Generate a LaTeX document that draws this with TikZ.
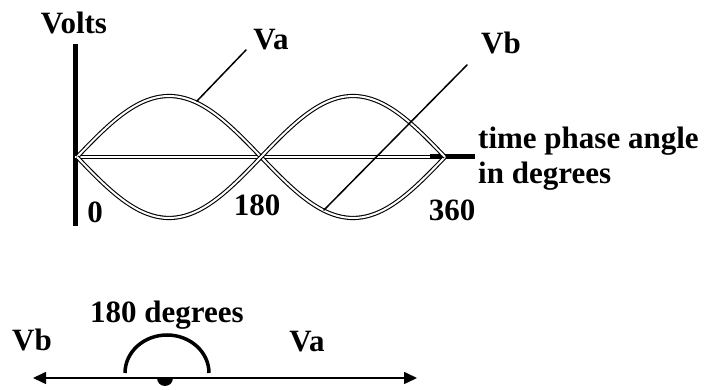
\documentclass[tikz,border=0pt]{standalone}
\usepackage{fontspec}
\setmainfont{Liberation Serif}
\usetikzlibrary{arrows.meta,positioning}
\tikzset{
  lbl/.style={font=\fontsize{31}{35}\selectfont\bfseries, inner sep=0pt},
  wave/.style={draw=black, line width=1.1pt, double=white, double distance=2pt},
  leader/.style={draw=black, line width=1.5pt, line cap=round}
}

\begin{document}
\begin{tikzpicture}[x=1pt, y=1pt]
    \useasboundingbox (0,0) rectangle (704,390);
    % axes
    \draw[line width=5pt] (75,346) -- (75,164);
    \draw[wave] (75,233) -- (432,233);
    \draw[line width=5pt] (430,233) -- (475,233);
    \node[lbl] (volts) at (74,367) {Volts};
    \node[lbl, anchor=west, align=left] (time) at (478,231)
      {time phase angle\\in degrees};
    % tick labels
    \node[lbl] (zero) at (95,178) {0};
    \node[lbl] (half) at (257,185) {180};
    \node[lbl] (full) at (452,180) {360};
    % the two waves
    \foreach \s in {1,-1}{
      \draw[wave, smooth, samples=90, domain=0:360]
        plot ({77+\x/360*368}, {233+\s*61*sin(\x)});
    }
    % wave labels
    \node[lbl] (va) at (271,350) {Va};
    \node[lbl] (vb) at (501,347) {Vb};
    \coordinate (va-on) at (197,289);
    \coordinate (va-end) at (246,340);
    \coordinate (vb-on) at (324,180);
    \coordinate (vb-end) at (467,325);
    \draw[leader] (va-on) -- (va-end);
    \draw[leader] (vb-on) -- (vb-end);
    % phasor picture
    \coordinate (origin) at (165,12);
    \coordinate (left-tip) at (33,12);
    \coordinate (right-tip) at (417,12);
    \draw[line width=1.6pt, -{Triangle[length=13pt, width=12pt]}] (origin) -- (right-tip);
    \draw[line width=1.6pt, -{Triangle[length=13pt, width=12pt]}] (origin) -- (left-tip);
    \fill (157,12) arc[start angle=180, end angle=360, radius=8];
    \draw[line width=3.5pt] (125,17) arc[start angle=180, end angle=0, x radius=42, y radius=38];
    \node[lbl] (angle) at (167,75) {180 degrees};
    \node[lbl] (vb-low) at (32,50) {Vb};
    \node[lbl] (va-low) at (307,48) {Va};
\end{tikzpicture}
\end{document}
